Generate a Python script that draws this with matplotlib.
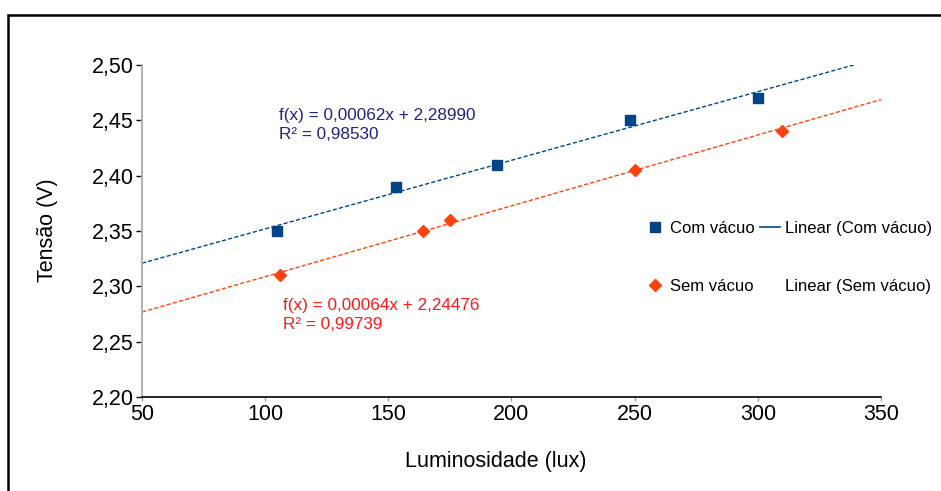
import matplotlib.pyplot as plt
import matplotlib.ticker as mticker
from matplotlib.lines import Line2D
from matplotlib.patches import Rectangle
import numpy as np

plt.rcParams['font.family'] = ['Liberation Sans', 'DejaVu Sans']

# Data
lux_com = [105, 153, 194, 248, 300]
tensao_com = [2.35, 2.39, 2.41, 2.45, 2.47]
lux_sem = [106, 164, 175, 250, 310]
tensao_sem = [2.31, 2.35, 2.36, 2.405, 2.44]

# Trendline coefficients (as printed on the chart)
slope_com, intercept_com = 0.00062, 2.28990
slope_sem, intercept_sem = 0.00064, 2.24476
eq_com = "f(x) = 0,00062x + 2,28990\nR² = 0,98530"
eq_sem = "f(x) = 0,00064x + 2,24476\nR² = 0,99739"

x_ticks = [50, 100, 150, 200, 250, 300, 350]
y_ticks = [2.20, 2.25, 2.30, 2.35, 2.40, 2.45, 2.50]

blue = '#004586'
orange = '#ff420e'

W, H = 941, 491
fig = plt.figure(figsize=(W / 100, H / 100), dpi=100)
ax = fig.add_axes([142 / W, 1 - 397 / H, (881 - 142) / W, (397 - 65) / H])

# outer frame of the chart area
fig.patches.append(Rectangle((8 / W, -0.2), 1.2, 1.2 - 15 / H, transform=fig.transFigure,
                             fill=False, edgecolor='black', linewidth=1.8))

# trendlines
xs = np.array([50, 350])
ax.plot(xs, slope_com * xs + intercept_com, color=blue, lw=1.0, ls=(0, (3, 1.6)))
ax.plot(xs, slope_sem * xs + intercept_sem, color=orange, lw=1.0, ls=(0, (3, 1.6)))

# points
ax.plot(lux_com, tensao_com, 's', color=blue, markersize=7.6, linestyle='none')
ax.plot(lux_sem, tensao_sem, 'D', color=orange, markersize=6.4, linestyle='none')

ax.set_xlim(50, 350)
ax.set_ylim(2.20, 2.50)
ax.set_xticks(x_ticks)
ax.set_yticks(y_ticks)
ax.yaxis.set_major_formatter(mticker.FuncFormatter(lambda v, p: f"{v:.2f}".replace('.', ',')))
ax.tick_params(axis='both', labelsize=15.5, length=4, width=1, direction='out', pad=2)
ax.tick_params(axis='x', colors='#999999', labelcolor='black', length=3, pad=2)

for side in ['top', 'right']:
    ax.spines[side].set_visible(False)
ax.spines['left'].set_color('#b3b3b3')
ax.spines['left'].set_linewidth(1.5)
ax.spines['bottom'].set_color('black')
ax.spines['bottom'].set_linewidth(1.2)

fig.text(496 / W, 1 - 461 / H, 'Luminosidade (lux)', fontsize=15.5, ha='center', va='center')
fig.text(47 / W, 1 - 230 / H, 'Tensão (V)', fontsize=15.5, rotation=90, ha='center', va='center')

# trendline equations
fig.text(279 / W, 1 - 108 / H, eq_com, color='#22227f', fontsize=12.3,
         va='top', ha='left', linespacing=1.3)
fig.text(283 / W, 1 - 298 / H, eq_sem, color='#ff1a1a', fontsize=12.3,
         va='top', ha='left', linespacing=1.3)

handles = [
    Line2D([], [], marker='s', color=blue, linestyle='none', markersize=7.6),
    Line2D([], [], marker='D', color=orange, linestyle='none', markersize=6.4),
    Line2D([], [], color=blue, lw=1.2),
    Line2D([], [], color='white', lw=1.2),
]
labels = ['Com vácuo', 'Sem vácuo', 'Linear (Com vácuo)', 'Linear (Sem vácuo)']
fig.legend(handles, labels, ncol=2, frameon=False, fontsize=12,
           loc='upper left', bbox_to_anchor=(645 / W, 1 - 221 / H),
           borderpad=0, borderaxespad=0, handlelength=1.2, handletextpad=0.3,
           columnspacing=0.3, labelspacing=2.6)

fig.savefig('out.png', dpi=100)
